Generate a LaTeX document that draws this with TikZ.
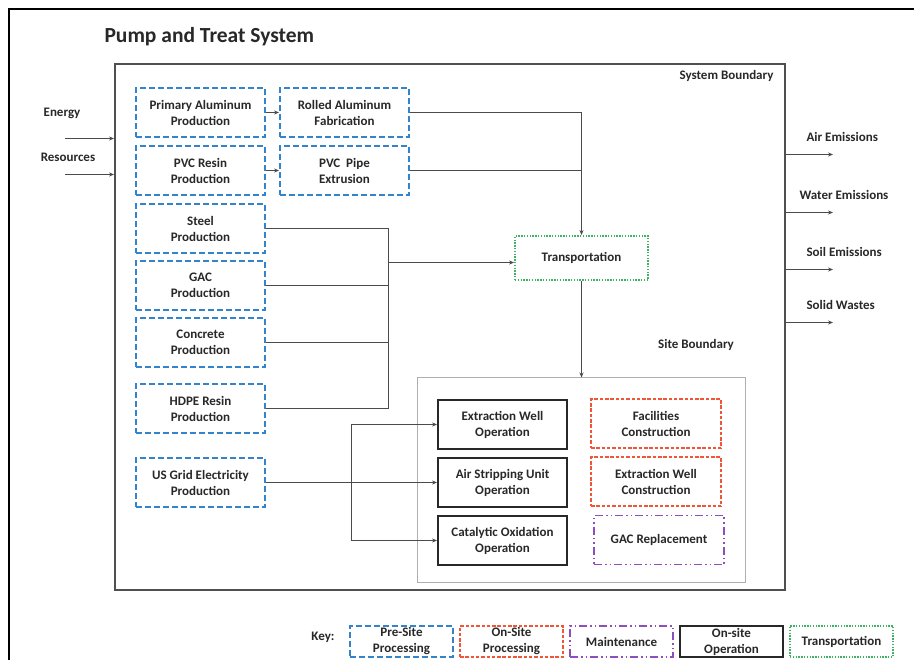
\documentclass[tikz,border=0pt]{standalone}
\usepackage{fontspec}
\setmainfont{Carlito}
\usetikzlibrary{arrows.meta}

\tikzset{%
  stagebox/.style={rectangle, minimum width=129pt, minimum height=49pt, inner sep=0pt, align=center, line width=1.8pt},%
  presite/.style={stagebox, draw={rgb,255:red,52;green,132;blue,204}, dash pattern=on 6pt off 3pt},%
  onsite/.style={stagebox, draw={rgb,255:red,240;green,85;blue,55}, dash pattern=on 3.5pt off 1.8pt, line width=2pt},%
  maint/.style={stagebox, draw={rgb,255:red,140;green,80;blue,190}, dash pattern=on 8pt off 3pt on 1.5pt off 3pt on 1.5pt off 3pt},%
  onop/.style={stagebox, draw={rgb,255:red,40;green,40;blue,40}},%
  transp/.style={stagebox, draw={rgb,255:red,60;green,180;blue,100}, dash pattern=on 1.4pt off 1.4pt},%
  flow/.style={line width=1.4pt, draw={rgb,255:red,75;green,75;blue,75}},%
  flowarr/.style={flow, -{Stealth[length=5pt,width=4pt]}},%
}

\begin{document}
\begin{tikzpicture}[x=1pt, y=-1pt, font=\fontsize{13}{16}\selectfont\bfseries, text={rgb,255:red,40;green,40;blue,40}]%
\useasboundingbox (0,0) rectangle (914,660);%
\fill[white] (0,0) rectangle (914,660);%
\draw[line width=2pt, black] (9,9) rectangle (940,690);%
\node[anchor=west, font=\fontsize{21.5}{24}\selectfont\bfseries] (title) at (101,37) {Pump and Treat System};%
% boundaries
\node[draw={rgb,255:red,80;green,80;blue,80}, line width=1.8pt, minimum width=670pt, minimum height=526pt] (sys) at (450,327) {};%
\node[anchor=east] (syslabel) at (777,76) {System Boundary};%
\node[draw={rgb,255:red,175;green,175;blue,175}, line width=1pt, minimum width=328pt, minimum height=204pt] (site) at (581,480) {};%
\node (sitelabel) at (696,345) {Site Boundary};%
% pre-site processing
\node[presite] (pal) at (200.5,112.5) {Primary Aluminum\\Production};%
\node[presite] (pvc) at (200.5,170.5) {PVC Resin\\Production};%
\node[presite] (steel) at (200.5,228.5) {Steel\\Production};%
\node[presite] (gac) at (200.5,285.5) {GAC\\Production};%
\node[presite] (conc) at (200.5,342.5) {Concrete\\Production};%
\node[presite] (hdpe) at (200.5,408.5) {HDPE Resin\\Production};%
\node[presite] (grid) at (200.5,482.5) {US Grid Electricity\\Production};%
\node[presite] (ral) at (344.5,112.5) {Rolled Aluminum\\Fabrication};%
\node[presite] (pipe) at (344.5,170.5) {PVC~ Pipe\\Extrusion};%
\node[transp, minimum width=133pt, minimum height=44pt] (trans) at (581.5,258) {Transportation};%
% on-site
\node[onop] (ewo) at (502.5,424.5) {Extraction Well\\Operation};%
\node[onop] (aso) at (502.5,482.5) {Air Stripping Unit\\Operation};%
\node[onop] (cox) at (502.5,540.5) {Catalytic Oxidation\\Operation};%
\node[onsite, minimum width=130pt] (fac) at (656,424) {Facilities\\Construction};%
\node[onsite, minimum width=130pt] (ewc) at (656,482) {Extraction Well\\Construction};%
\node[maint, minimum width=130pt] (gacr) at (659,540) {GAC Replacement};%
% inputs and outputs
\node (energy) at (62,113) {Energy};%
\node (resources) at (68,157) {Resources};%
\coordinate (ein) at (65,138.5);%
\coordinate (rin) at (65,174.5);%
\draw[flowarr] (ein) -- (ein -| sys.west);%
\draw[flowarr] (rin) -- (rin -| sys.west);%
\node[anchor=west] (air) at (803,137) {Air Emissions};%
\node[anchor=west] (water) at (796,195) {Water Emissions};%
\node[anchor=west] (soil) at (803,252) {Soil Emissions};%
\node[anchor=west] (solid) at (803,305) {Solid Wastes};%
\foreach \y/\name in {154.5/airout, 212.5/waterout, 269.5/soilout, 322.5/solidout}{%
  \coordinate (\name) at (833,\y);%
  \draw[flowarr] (\name -| sys.east) -- (\name);%
}%
% flows
\draw[flowarr] (pal) -- (ral);%
\draw[flowarr] (pvc) -- (pipe);%
\draw[flowarr] (ral.east) -| (trans.north);%
\draw[flow] (pipe.east) -- (pipe.east -| trans.north);%
\coordinate (bus) at (388.5,262.5);%
\draw[flow] (steel.east) -| (hdpe.east -| bus) -- (hdpe.east);%
\draw[flow] (gac.east) -- (gac.east -| bus);%
\draw[flow] (conc.east) -- (conc.east -| bus);%
\draw[flowarr] (bus) -- (bus -| trans.west);%
\draw[flowarr] (trans.south) -- (trans.south |- site.north);%
\coordinate (split) at (351.5,482.5);%
\draw[flowarr] (grid.east |- split) -- (split -| aso.west);%
\draw[flowarr] (split) |- (ewo.west);%
\draw[flowarr] (split) |- (cox.west);%
% key
\node (key) at (323,637) {Key:};%
\node[presite, minimum width=103pt, minimum height=31pt] (kpre) at (401.5,641.5) {Pre-Site\\Processing};%
\node[onsite, minimum width=103pt, minimum height=31pt] (kon) at (511.5,641.5) {On-Site\\Processing};%
\node[maint, minimum width=103pt, minimum height=31pt] (kmaint) at (621.5,641.5) {Maintenance};%
\node[onop, minimum width=103pt, minimum height=31pt] (kop) at (731.5,641.5) {On-site\\Operation};%
\node[transp, minimum width=103pt, minimum height=31pt] (ktrans) at (841.5,641.5) {Transportation};%
\end{tikzpicture}
\end{document}
